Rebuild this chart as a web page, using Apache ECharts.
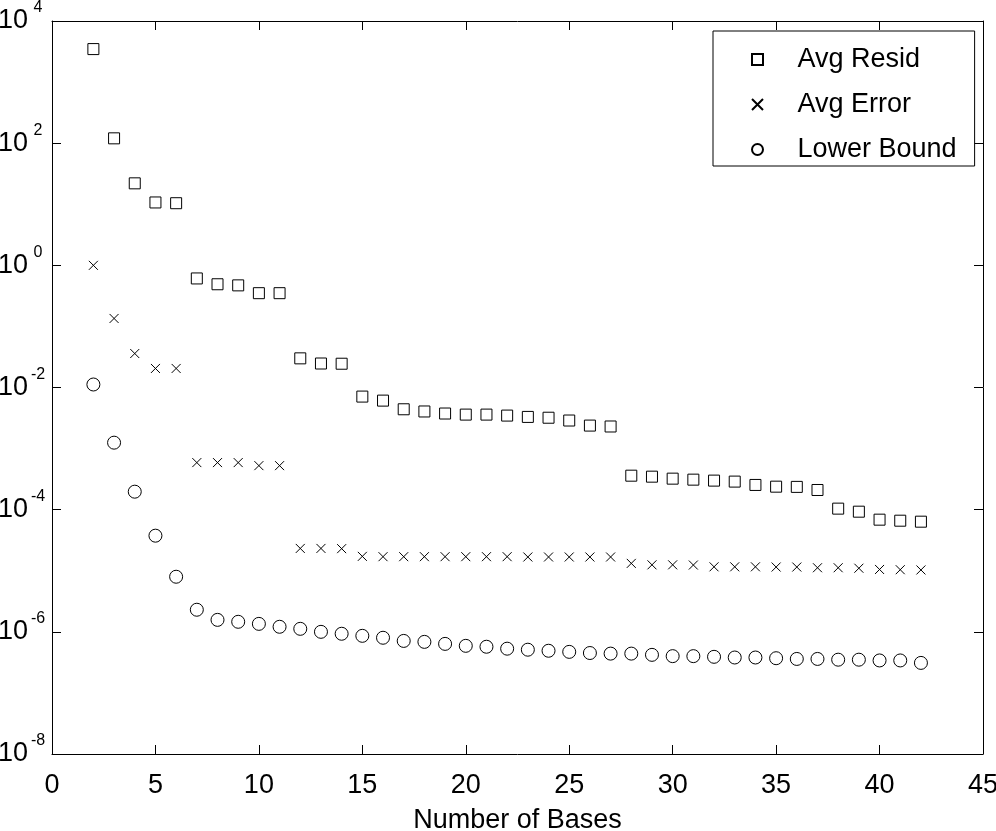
<html lang="en">
<head>
    <meta http-equiv="Content-Type" content="text/html; charset=UTF-8">
    <script type="text/javascript" src="https://cdn.jsdelivr.net/npm/echarts@6/dist/echarts.min.js"></script>
    <style>body{margin:0;background:#fff;}</style>
</head>
<body>
<div id="main" style="height:831px;width:996px;"></div>
<script type="text/javascript">
    // number of bases (x)
    var bases = [2, 3, 4, 5, 6, 7, 8, 9, 10, 11, 12, 13, 14, 15, 16, 17, 18, 19, 20, 21, 22,
        23, 24, 25, 26, 27, 28, 29, 30, 31, 32, 33, 34, 35, 36, 37, 38, 39, 40, 41, 42];
    // Avg Resid (squares)
    var avgResid = [3470, 120, 22, 10.7, 10.4, 0.61, 0.49, 0.47, 0.35, 0.35, 0.030, 0.0247, 0.0245,
        0.0071, 0.0061, 0.0044, 0.00405, 0.00375, 0.0036, 0.0036, 0.00347, 0.0033, 0.0032, 0.00288,
        0.00238, 0.0023, 0.00036, 0.000347, 0.000322, 0.00031, 0.000299, 0.000288, 0.000254,
        0.000238, 0.000236, 0.00021, 0.000104, 0.0000927, 0.0000686, 0.000066, 0.0000636];
    // Avg Error (crosses)
    var avgError = [1.0, 0.135, 0.036, 0.0205, 0.0205, 0.00059, 0.00059, 0.00059, 0.000526, 0.000526,
        2.32e-5, 2.32e-5, 2.3e-5, 1.72e-5,
        1.7e-5, 1.7e-5, 1.7e-5, 1.7e-5, 1.7e-5, 1.7e-5, 1.7e-5, 1.68e-5, 1.68e-5, 1.68e-5, 1.68e-5, 1.68e-5,
        1.32e-5, 1.25e-5, 1.25e-5, 1.24e-5,
        1.16e-5, 1.16e-5, 1.16e-5, 1.15e-5, 1.15e-5,
        1.12e-5, 1.12e-5, 1.1e-5,
        1.05e-5, 1.04e-5, 1.03e-5];
    // Lower Bound (circles)
    var lowerBound = [0.0112, 0.00125, 0.000197, 3.75e-5, 7.98e-6, 2.3e-6, 1.57e-6, 1.46e-6, 1.35e-6,
        1.21e-6, 1.12e-6, 1.0e-6, 9.3e-7, 8.6e-7, 8.0e-7, 7.1e-7, 6.85e-7, 6.35e-7, 5.9e-7, 5.7e-7,
        5.3e-7, 5.1e-7, 4.9e-7, 4.7e-7, 4.5e-7, 4.4e-7, 4.4e-7, 4.2e-7, 4.0e-7, 4.0e-7, 3.9e-7,
        3.8e-7, 3.8e-7, 3.7e-7, 3.6e-7, 3.6e-7, 3.5e-7, 3.5e-7, 3.4e-7, 3.4e-7, 3.1e-7];
    var seriesNames = ['Avg Resid', 'Avg Error', 'Lower Bound'];
    var xTicks = [0, 45, 5];      // min, max, interval
    var yTicks = [1e-8, 1e4];     // min, max (ticks every 2 decades)

    var FONT = 'Liberation Sans';
    var squarePath = 'path://M0,0L10,0L10,10L0,10Z';
    var crossPath = 'path://M0,0L10,10M10,0L0,10';

    function pairs(ys) {
        var out = [];
        for (var i = 0; i < bases.length; i++) {
            out.push([bases[i], ys[i]]);
        }
        return out;
    }

    var axisLine = {show: true, onZero: false, lineStyle: {color: '#000', width: 1}};
    var axisTick = {show: true, inside: true, length: 9, lineStyle: {color: '#000', width: 1}};

    var myChart = echarts.init(document.getElementById('main'));
    var option = {
        animation: false,
        backgroundColor: '#fff',
        grid: {left: 52, right: 13, top: 21, bottom: 77, containLabel: false, outerBoundsMode: 'none'},
        legend: {
            orient: 'vertical',
            left: 713,
            top: 31,
            padding: [15, 18, 3, 38],
            itemGap: 18,
            itemWidth: 70,
            itemHeight: 11,
            symbolKeepAspect: true,
            backgroundColor: '#fff',
            borderColor: '#000',
            borderWidth: 1,
            borderRadius: 0,
            textStyle: {fontFamily: FONT, fontSize: 27, color: '#000'},
            data: seriesNames
        },
        xAxis: [{
            type: 'value',
            min: xTicks[0], max: xTicks[1], interval: xTicks[2],
            name: 'Number of Bases',
            nameLocation: 'middle',
            nameGap: 53,
            nameTextStyle: {fontFamily: FONT, fontSize: 27, color: '#000'},
            axisLine: axisLine,
            axisTick: axisTick,
            axisLabel: {fontFamily: FONT, fontSize: 27, color: '#000', margin: 18},
            splitLine: {show: false}
        }, {
            type: 'value',
            position: 'top',
            min: xTicks[0], max: xTicks[1], interval: xTicks[2],
            axisLine: axisLine,
            axisTick: axisTick,
            axisLabel: {show: false},
            splitLine: {show: false}
        }],
        yAxis: [{
            type: 'log',
            logBase: 10,
            min: yTicks[0], max: yTicks[1],
            interval: 2,
            axisLine: axisLine,
            axisTick: axisTick,
            axisLabel: {
                margin: 6,
                formatter: function (v) {
                    var e = Math.round(Math.log10(v));
                    return '{b|10}{e|' + e + '}';
                },
                rich: {
                    b: {fontFamily: FONT, fontSize: 27, color: '#000', lineHeight: 27},
                    e: {fontFamily: FONT, fontSize: 16, color: '#000', lineHeight: 16,
                        width: 16, align: 'left', padding: [0, 0, 26, 2]}
                }
            },
            splitLine: {show: false}
        }, {
            type: 'log',
            logBase: 10,
            position: 'right',
            min: yTicks[0], max: yTicks[1],
            interval: 2,
            axisLine: axisLine,
            axisTick: axisTick,
            axisLabel: {show: false},
            splitLine: {show: false}
        }],
        series: [{
            name: seriesNames[0],
            type: 'scatter',
            symbol: squarePath,
            symbolSize: 11,
            itemStyle: {color: '#fff', borderColor: '#000', borderWidth: 1, opacity: 1},
            data: pairs(avgResid)
        }, {
            name: seriesNames[1],
            type: 'scatter',
            symbol: crossPath,
            symbolSize: 9,
            itemStyle: {color: '#000', borderColor: '#000', borderWidth: 1, opacity: 1},
            data: pairs(avgError)
        }, {
            name: seriesNames[2],
            type: 'scatter',
            symbol: 'circle',
            symbolSize: 13,
            itemStyle: {color: '#fff', borderColor: '#000', borderWidth: 1, opacity: 1},
            data: pairs(lowerBound)
        }]
    };
    myChart.setOption(option);
</script>
</body>
</html>
